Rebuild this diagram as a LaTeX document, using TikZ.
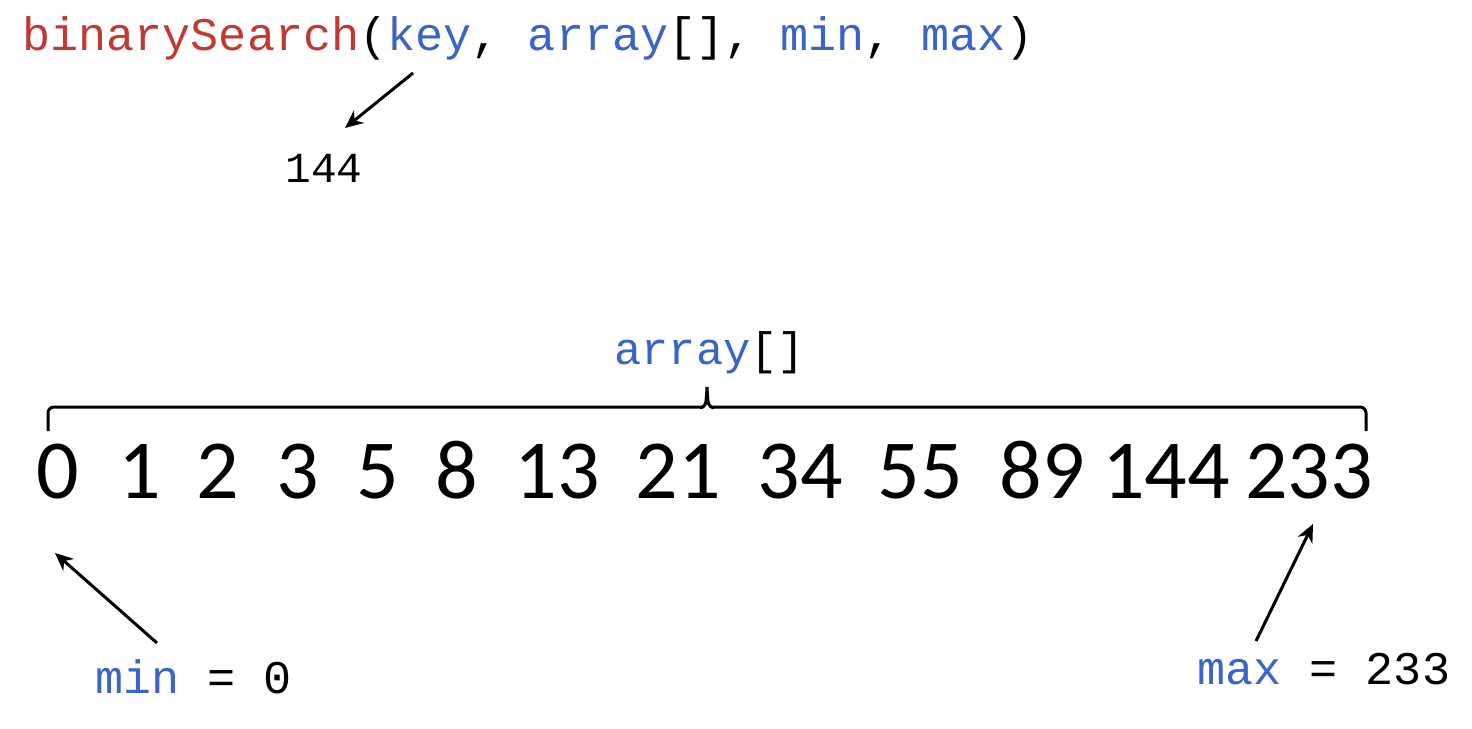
\documentclass[tikz,border=0pt]{standalone}
\usepackage{fontspec}
\setmainfont{Liberation Mono}
\newfontfamily\numfont{Carlito}
\usetikzlibrary{arrows.meta}
\definecolor{codered}{RGB}{192,58,50}
\definecolor{codeblue}{RGB}{58,100,200}
\tikzset{
  code/.style={inner sep=0pt, anchor=base west, font=\fontsize{23.4}{28}\selectfont},
  num/.style={inner sep=0pt, anchor=base, font=\numfont\fontsize{42}{50}\selectfont},
  ptr/.style={line width=1.5pt, -{Stealth[length=9pt,width=8pt]}},
  brace/.style={line width=1.5pt, rounded corners=3pt}
}
\begin{document}
\begin{tikzpicture}[x=0.5pt,y=-0.5pt]
\useasboundingbox (0,0) rectangle (1472,728);
\fill[white] (0,0) rectangle (1472,728);
% top signature
\node[code] (sig) at (22,50) {\textcolor{codered}{binarySearch}(\textcolor{codeblue}{key}, \textcolor{codeblue}{array}[], \textcolor{codeblue}{min}, \textcolor{codeblue}{max})};
\node[code, font=\fontsize{21.4}{26}\selectfont] (key) at (285,182) {144};
\coordinate (keyfrom) at (413,73);
\coordinate (keyto) at (345,128);
\draw[ptr] (keyfrom) -- (keyto);
% array label and brace
\node[code, font=\fontsize{22.7}{27}\selectfont] (arr) at (614,364) {\textcolor{codeblue}{array}[]};
\coordinate (bl) at (48,431);
\coordinate (br) at (1366,431);
\coordinate (bm) at (707,387);
\draw[brace] (bl) -- (48,407) -- (703,407);
\draw[brace] (br) -- (1366,407) -- (711,407);
\draw[line width=1.5pt] (700,408) .. controls (706,406) .. (bm) .. controls (708,406) .. (714,408);
% numbers
\node[num] (n0) at (58,498) {0};
\node[num] (n1) at (140,498) {1};
\node[num] (n2) at (218,498) {2};
\node[num] (n3) at (298,498) {3};
\node[num] (n5) at (378,498) {5};
\node[num] (n8) at (457,498) {8};
\node[num] (n13) at (557,498) {13};
\node[num] (n21) at (678,498) {21};
\node[num] (n34) at (800,498) {34};
\node[num] (n55) at (920,498) {55};
\node[num] (n89) at (1042,498) {89};
\node[num] (n144) at (1166,498) {144};
\node[num] (n233) at (1309,498) {233};
% min / max
\node[code] (minl) at (95,693) {\textcolor{codeblue}{min} = 0};
\node[code] (maxl) at (1197,684) {\textcolor{codeblue}{max} = 233};
\coordinate (minfrom) at (157,643);
\coordinate (minto) at (55,553);
\coordinate (maxfrom) at (1256,641);
\coordinate (maxto) at (1313,524);
\draw[ptr] (minfrom) -- (minto);
\draw[ptr] (maxfrom) -- (maxto);
\end{tikzpicture}
\end{document}
